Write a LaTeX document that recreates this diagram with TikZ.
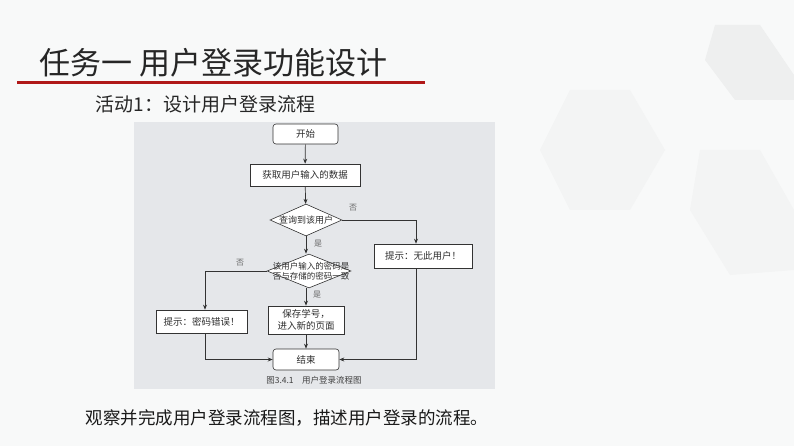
\documentclass[tikz,border=0pt]{standalone}
\usepackage{fontspec}
\setmainfont{Noto Sans CJK SC}
\usetikzlibrary{arrows.meta,shapes.geometric}
\definecolor{bgc}{HTML}{F8F9F9}
\definecolor{hexc}{HTML}{F3F4F4}
\definecolor{hexd}{HTML}{EEEFEF}
\definecolor{panel}{HTML}{E5E7EA}
\definecolor{linec}{HTML}{333333}
\definecolor{redline}{HTML}{B01818}
\tikzset{
  fc/.style={font=\fontsize{9.5}{11}\selectfont, text=linec!90!black},
  proc/.style={draw=linec, fill=white, line width=0.6pt, fc, inner sep=1pt},
  term/.style={proc, rounded corners=3pt},
  dec/.style={draw=linec, fill=white, line width=0.6pt, shape=diamond, inner sep=0pt},
  arr/.style={draw=linec, line width=0.7pt, -{Stealth[length=5pt,width=4pt]}},
  yn/.style={font=\fontsize{8}{9}\selectfont, text=black!60},
}
\begin{document}
\begin{tikzpicture}[x=1pt,y=-1pt]
\useasboundingbox (0,0) rectangle (794,446);
\fill[bgc] (0,0) rectangle (794,446);
% faint background hexagons
\fill[hexc] (570,90) -- (630,90) -- (665,150) -- (630,210) -- (570,210) -- (540,150) -- cycle;
\fill[hexc] (700,150) -- (760,150) -- (794,210) -- (794,270) -- (730,275) -- (690,210) -- cycle;
\fill[hexd] (715,25) -- (760,25) -- (794,75) -- (794,100) -- (735,100) -- (705,60) -- cycle;
% title
\node[anchor=west, font=\fontsize{31}{35}\selectfont, text=black!85] (title) at (36,63) {任务一 用户登录功能设计};
\draw[redline, line width=2.2pt] (17,82.5) -- (425,82.5);
\node[anchor=west, font=\fontsize{19}{22}\selectfont, text=black!85] (sub) at (92,104) {活动1：设计用户登录流程};
% panel
\fill[panel] (134,122) rectangle (495,389);
% flowchart
\node[term, minimum width=65pt, minimum height=20pt] (start) at (305.5,134) {开始};
\node[proc, minimum width=110pt, minimum height=22pt] (get) at (305,175) {获取用户输入的数据};
\node[dec, minimum width=72pt, minimum height=32pt] (q1) at (306,220) {};
\node[fc, font=\fontsize{9}{10}\selectfont, inner sep=0pt] (q1t) at (q1) {查询到该用户};
\node[proc, minimum width=98pt, minimum height=24pt] (nouser) at (423,256) {提示：无此用户！};
\node[dec, minimum width=84pt, minimum height=34pt] (q2) at (309,271) {};
\node[fc, font=\fontsize{8.5}{10}\selectfont, align=center, inner sep=0pt] (q2t) at (311,271) {该用户输入的密码是\\否与存储的密码一致};
\node[proc, minimum width=91pt, minimum height=23pt] (pwerr) at (201.5,321.5) {提示：密码错误！};
\node[proc, minimum width=76pt, minimum height=28pt, align=center, font=\fontsize{9.5}{12}\selectfont] (save) at (306,320) {保存学号，\\进入新的页面};
\node[term, minimum width=66pt, minimum height=21pt] (end) at (306,359.5) {结束};
\coordinate (nx) at (416,0);
\coordinate (ex) at (205,0);
\coordinate (cx) at (306,0);
\draw[arr] (start) -- (get);
\draw[arr] (get) -- (q1);
\draw[arr] (q1.east) -| (nouser.north -| nx);
\draw[arr] (q1.south) -- (q2.north -| cx);
\draw[arr] (q2.west) -| (pwerr.north -| ex);
\draw[arr] (q2.south -| cx) -- (save.north -| cx);
\draw[arr] (save.south -| cx) -- (end.north -| cx);
\draw[arr] (pwerr.south -| ex) |- (end.west);
\draw[arr] (nouser.south -| nx) |- (end.east);
\node[yn] (n1) at (353,208) {否};
\node[yn] (y1) at (318,244) {是};
\node[yn] (n2) at (240,263) {否};
\node[yn] (y2) at (317,295) {是};
\node[font=\fontsize{8.5}{10}\selectfont, text=black!75] (cap) at (314,380) {图3.4.1\quad 用户登录流程图};
% bottom text
\node[anchor=west, font=\fontsize{17.5}{20}\selectfont, text=black!90] (desc) at (82,418) {观察并完成用户登录流程图，描述用户登录的流程。};
\end{tikzpicture}
\end{document}
